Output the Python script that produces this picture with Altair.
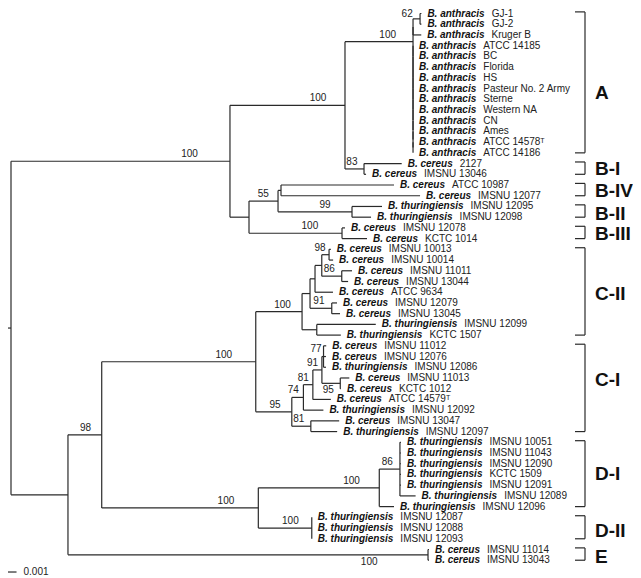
import altair as alt
import pandas as pd

# ---------------- data ----------------
species = (
    ["B. anthracis"] * 14
    + ["B. cereus"] * 4
    + ["B. thuringiensis"] * 2
    + ["B. cereus"] * 9
    + ["B. thuringiensis"] * 2
    + ["B. cereus", "B. cereus", "B. thuringiensis", "B. cereus", "B. cereus",
       "B. cereus", "B. thuringiensis", "B. cereus", "B. thuringiensis"]
    + ["B. thuringiensis"] * 10
    + ["B. cereus"] * 2
)
strains = [
    "GJ-1", "GJ-2", "Kruger B", "ATCC 14185", "BC", "Florida", "HS",
    "Pasteur No. 2 Army", "Sterne", "Western NA", "CN", "Ames",
    "ATCC 14578\u1d40", "ATCC 14186",
    "2127", "IMSNU 13046", "ATCC 10987", "IMSNU 12077", "IMSNU 12095",
    "IMSNU 12098", "IMSNU 12078", "KCTC 1014",
    "IMSNU 10013", "IMSNU 10014", "IMSNU 11011", "IMSNU 13044", "ATCC 9634",
    "IMSNU 12079", "IMSNU 13045", "IMSNU 12099", "KCTC 1507",
    "IMSNU 11012", "IMSNU 12076", "IMSNU 12086", "IMSNU 11013", "KCTC 1012",
    "ATCC 14579\u1d40", "IMSNU 12092", "IMSNU 13047", "IMSNU 12097",
    "IMSNU 10051", "IMSNU 11043", "IMSNU 12090", "KCTC 1509", "IMSNU 12091",
    "IMSNU 12089", "IMSNU 12096",
    "IMSNU 12087", "IMSNU 12088", "IMSNU 12093",
    "IMSNU 11014", "IMSNU 13043",
]

# tree (Newick; leaves are row indices, lengths in 0.001 substitutions/site,
# internal labels = bootstrap; suffix "b" = label printed below the branch)
A_X = "((0:0.1,1:0.1)62:0.52,2:0.61)"
A_L = "(3:0,(4:0,(5:0,(6:0,(7:0,(8:0,(9:0,(10:0,(11:0,(12:0,13:0):0):0):0):0):0):0):0):0):0)"
CL_A = "(" + A_X + ":0," + A_L + ":0)100:5.04"
CL_BI = "(14:2.79,15:0.15)83:1.41"
CL_BIV = "(16:8.37,17:10.30):0.22"
CL_BII = "(18:2.22,19:1.41)99:5.48"
CL_BIII = "(20:0.22,21:1.85)100:6.89"
CL_B = "((" + CL_BIV + "," + CL_BII + ")55:2.15," + CL_BIII + "):1.41"
TOP = "((" + CL_A + "," + CL_BI + ")100:8.52," + CL_B + ")100:16.22"

CII_U = "((((22:0.13,23:0.30)98:0.54,(24:0.76,25:0.47)86:1.48):0.50,26:1.33):0.37,(27:0.39,28:0.61)91:1.61):0.59"
CL_CII = "(" + CII_U + ",(29:4.37,30:1.78):1.09)100:3.43"
CI_91 = "((31:0.20,32:0.18,33:0.18)77:0.12,(34:0.67,35:0.05)95b:1.36)91:0.67"
CL_CI = "(((" + CI_91 + ",36:1.33)81:0.70,37:1.48)74:0.86,(38:2.10,39:1.95)81:1.41)95:2.67"
CL_C = "(" + CL_CII + "," + CL_CI + ")100:11.41"
CL_DI = "((40:0.07,41:0.07,42:0.07,43:0.07,44:0.07,45:1.16)86:1.53,46:1.09)100:8.96"
CL_DII = "(47:0,48:0,49:0)100:3.96"
CL_D = "(" + CL_DI + "," + CL_DII + ")100:11.60"
CL_E = "(50:0.07,51:0.07)100b:26.67"
TREE = "(" + TOP + ",((" + CL_C + "," + CL_D + ")98:2.50," + CL_E + "):4.22);"

clades = ["A", "B-I", "B-IV", "B-II", "B-III", "C-II", "C-I", "D-I", "D-II", "E"]
clade_first = [0, 14, 16, 18, 20, 22, 31, 40, 47, 50]
clade_last = [13, 15, 17, 19, 21, 30, 39, 46, 49, 51]
clade_label_row = [7.4, 14.5, 16.6, 18.7, 20.6, 26.2, 34.2, 43.0, 48.3, 50.7]

SCALE_BAR = 1.0          # 0.001 substitutions/site
SCALE_TEXT = "0.001"

# ---------------- layout constants ----------------
W, H = 615, 564
PT, PR = 6, 10
PX = 13.5     # pixels per 0.001
ROW = 10.72   # pixels per leaf
Y0 = -0.5     # plot y of the first leaf row
ROOT_TICK = 0.59
LINE = "#2a2a2a"

BOLD_W = {"B": 722, ".": 278, " ": 278, "a": 556, "n": 611, "t": 333, "h": 611,
          "r": 389, "c": 556, "i": 278, "s": 556, "e": 556, "u": 611, "g": 611}


def text_w(s, size=10):
    return sum(BOLD_W[ch] for ch in s) * size / 1000.0


def parse(s):
    s = s.replace(" ", "")
    pos = [0]

    def node():
        n = {"children": [], "label": "", "len": 0.0}
        if s[pos[0]] == "(":
            pos[0] += 1
            while True:
                n["children"].append(node())
                ch = s[pos[0]]
                pos[0] += 1
                if ch == ")":
                    break
        j = pos[0]
        while s[pos[0]] not in ",():;":
            pos[0] += 1
        n["label"] = s[j:pos[0]]
        if s[pos[0]] == ":":
            pos[0] += 1
            j = pos[0]
            while s[pos[0]] not in ",();":
                pos[0] += 1
            n["len"] = float(s[j:pos[0]])
        return n

    return node()


def place(n, x0):
    n["x"] = x0 + n["len"]
    if n["children"]:
        for c in n["children"]:
            place(c, n["x"])
        n["y"] = (n["children"][0]["y"] + n["children"][-1]["y"]) / 2.0
    else:
        n["y"] = float(n["label"])


root = parse(TREE)
place(root, 0.0)

segs, boots, tips = [], [], []
MIN_LABEL_ROW = 0.05   # keep labels inside the drawing


def walk(n, parent):
    if parent is None:
        segs.append(dict(x=-ROOT_TICK, x2=n["x"], y=n["y"], y2=n["y"]))
    else:
        segs.append(dict(x=parent["x"], x2=n["x"], y=n["y"], y2=n["y"]))
    if n["children"]:
        segs.append(dict(x=n["x"], x2=n["x"],
                         y=n["children"][0]["y"], y2=n["children"][-1]["y"]))
        if n["label"] and parent is not None:
            below = n["label"].endswith("b")
            val = n["label"].rstrip("b")
            lp = n["len"] * PX
            g = (7 + 0.27 * lp) if lp < 100 else (12 + 0.13 * lp)
            ly = n["y"] + (0.66 if below else -0.66)
            xl = n["x"] - g / PX
            if ly < MIN_LABEL_ROW:
                ly = MIN_LABEL_ROW
                xl -= 4 / PX
            boots.append(dict(x=xl, y=ly, t=val))
        for c in n["children"]:
            walk(c, n)
    else:
        i = int(n["label"])
        tips.append(dict(x=n["x"], y=n["y"], sp=species[i], st=strains[i],
                         xs=n["x"] + (6 + text_w(species[i]) + 7) / PX))


walk(root, None)

seg_df = pd.DataFrame(segs)
boot_df = pd.DataFrame(boots)
tip_df = pd.DataFrame(tips)

br_h = []
br_v = []
for name, a, b, lr in zip(clades, clade_first, clade_last, clade_label_row):
    top, bot = a - 0.15, b + 0.0
    br_h.append(dict(y=top))
    br_h.append(dict(y=bot))
    br_v.append(dict(y=top, y2=bot, name=name, ly=lr))
brh_df = pd.DataFrame(br_h)
brv_df = pd.DataFrame(br_v)

sb_df = pd.DataFrame([dict(x=-ROOT_TICK, x2=-ROOT_TICK + SCALE_BAR, y=52.1, t=SCALE_TEXT)])

xs = alt.Scale(domain=[-3 / PX, (W - 3) / PX])
ys = alt.Scale(domain=[-Y0 / ROW, (H - Y0) / ROW], reverse=True)

X = lambda f: alt.X(f, type="quantitative", scale=xs, axis=None)
Y = lambda f: alt.Y(f, type="quantitative", scale=ys, axis=None)

tree = alt.Chart(seg_df).mark_rule(color=LINE, strokeWidth=1.2).encode(
    x=X("x"), x2="x2", y=Y("y"), y2="y2")

boot = alt.Chart(boot_df).mark_text(fontSize=10, align="center", baseline="middle",
                                    color="#222").encode(x=X("x"), y=Y("y"), text="t:N")

sp_txt = alt.Chart(tip_df).mark_text(fontSize=10, fontWeight="bold", fontStyle="italic",
                                     align="left", baseline="middle", dx=6,
                                     color="#111").encode(x=X("x"), y=Y("y"), text="sp:N")
st_txt = alt.Chart(tip_df).mark_text(fontSize=10, align="left", baseline="middle",
                                     color="#222").encode(x=X("xs"), y=Y("y"), text="st:N")

br_hl = alt.Chart(brh_df).mark_rule(color=LINE, strokeWidth=1.2).encode(
    x=alt.value(567), x2=alt.value(577), y=Y("y"))
br_vl = alt.Chart(brv_df).mark_rule(color=LINE, strokeWidth=1.2).encode(
    x=alt.value(577), y=Y("y"), y2="y2")
cl_txt = alt.Chart(brv_df).mark_text(fontSize=19, fontWeight="bold", align="left",
                                     baseline="middle", color="#111").encode(
    x=alt.value(587), y=Y("ly"), text="name:N")

sb_line = alt.Chart(sb_df).mark_rule(color=LINE, strokeWidth=1.2).encode(
    x=X("x"), x2="x2", y=Y("y"))
sb_txt = alt.Chart(sb_df).mark_text(fontSize=10, align="left", baseline="middle", dx=7,
                                    color="#222").encode(x=X("x2"), y=Y("y"), text="t:N")

chart = alt.layer(tree, boot, sp_txt, st_txt, br_hl, br_vl, cl_txt, sb_line, sb_txt).properties(
    width=W, height=H,
    padding={"left": 0, "top": PT, "right": PR, "bottom": 0},
    autosize=alt.AutoSizeParams(type="none"),
).configure(font="Liberation Sans", view=alt.ViewConfig(stroke=None))

chart.save("out.html", embed_options={"renderer": "svg", "actions": False})
